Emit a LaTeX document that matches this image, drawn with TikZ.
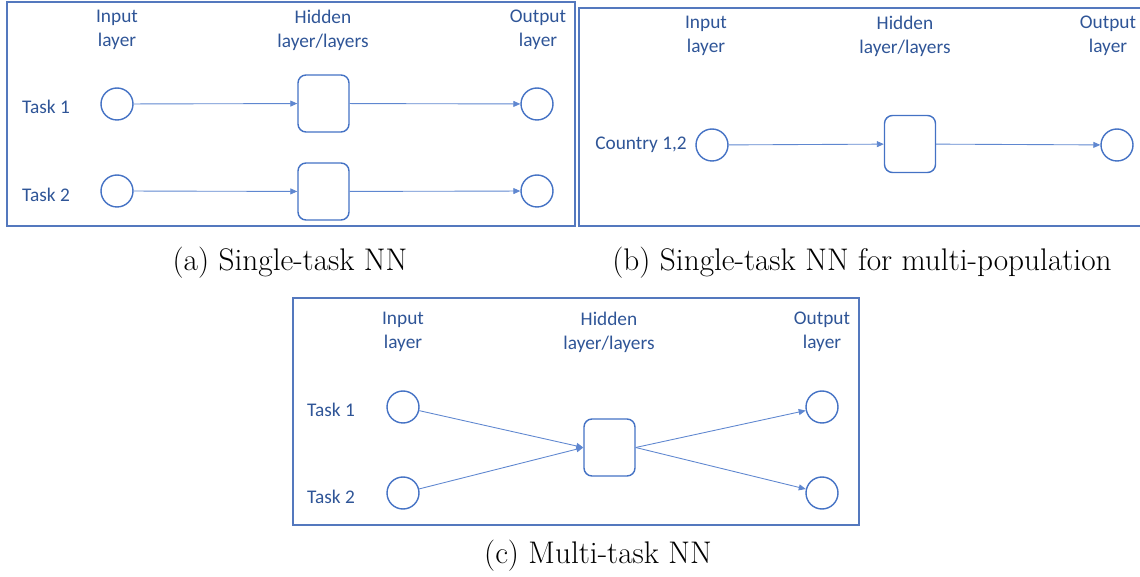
\documentclass[tikz,border=0pt]{standalone}
\usepackage{fontspec}
\newfontfamily\calfont{Carlito}
\usepackage{xcolor}
\usetikzlibrary{arrows.meta,positioning}
\definecolor{frame-blue}{RGB}{84,120,190}
\definecolor{node-blue}{RGB}{68,114,196}
\definecolor{text-blue}{RGB}{47,85,151}
\definecolor{arrow-blue}{RGB}{95,135,208}
\tikzstyle{panel}=[draw=frame-blue, line width=0.8pt]
\tikzstyle{neuron}=[circle, draw=node-blue, line width=0.8pt, minimum size=0.64cm, inner sep=0pt]
\tikzstyle{hbox}=[rectangle, rounded corners=0.16cm, draw=node-blue, line width=0.8pt, minimum width=1.02cm, minimum height=1.14cm, inner sep=0pt]
\tikzstyle{head}=[font=\calfont\fontsize{11}{13.7}\selectfont, text=text-blue, align=center]
\tikzstyle{task}=[font=\calfont\fontsize{11}{13.7}\selectfont, text=text-blue]
\tikzstyle{conn}=[draw=arrow-blue, line width=0.5pt, -{Triangle[length=0.14cm,width=0.12cm]}]
\tikzstyle{subcap}=[font=\fontsize{17.8}{21}\selectfont]

\begin{document}
\begin{tikzpicture}[x=0.02cm,y=-0.02cm]
	\useasboundingbox (0,0) rectangle (1140,577);
	% (a) single-task
	\draw[panel] (7,2) rectangle (575,226);
	\node[head] (aIn) at (117,30) {Input\\layer};
	\node[head] (aHid) at (323,30) {Hidden\\layer/layers};
	\node[head] (aOut) at (538,30) {Output\\layer};
	\node[task] (aT1) at (46,107) {Task 1};
	\node[task] (aT2) at (46,195) {Task 2};
	\node[neuron] (ai1) at (117,104) {};
	\node[neuron] (ai2) at (117,191) {};
	\node[hbox] (ah1) at (323.5,103.5) {};
	\node[hbox] (ah2) at (323.5,191.5) {};
	\node[neuron] (ao1) at (537,104) {};
	\node[neuron] (ao2) at (537,191) {};
	\draw[conn] (ai1) -- (ah1);
	\draw[conn] (ah1) -- (ao1);
	\draw[conn] (ai2) -- (ah2);
	\draw[conn] (ah2) -- (ao2);
	\node[subcap] (capA) at (290,263) {(a) Single-task NN};
	% (b) one net for both countries
	\draw[panel] (579,8) rectangle (1141,226);
	\node[head] (bIn) at (706,36) {Input\\layer};
	\node[head] (bHid) at (905,36) {Hidden\\layer/layers};
	\node[head] (bOut) at (1108,36) {Output\\layer};
	\node[task] (bC) at (641,145) {Country 1,2};
	\node[neuron] (bi) at (712,145) {};
	\node[hbox] (bh) at (910,144) {};
	\node[neuron] (bo) at (1117,145) {};
	\draw[conn] (bi) -- (bh);
	\draw[conn] (bh) -- (bo);
	\node[subcap] (capB) at (862,263) {(b) Single-task NN for multi-population};
	% (c) multi-task
	\draw[panel] (293,298) rectangle (859,525);
	\node[head] (cIn) at (403,332) {Input\\layer};
	\node[head] (cHid) at (609,332) {Hidden\\layer/layers};
	\node[head] (cOut) at (822,332) {Output\\layer};
	\node[task] (cT1) at (331,410) {Task 1};
	\node[task] (cT2) at (331,497) {Task 2};
	\node[neuron] (ci1) at (403,407) {};
	\node[neuron] (ci2) at (403,493) {};
	\node[hbox] (ch) at (609.5,447.5) {};
	\node[neuron] (co1) at (822,407) {};
	\node[neuron] (co2) at (822,493) {};
	\draw[conn] (ci1) -- (ch.west);
	\draw[conn] (ci2) -- (ch.west);
	\draw[conn] (ch.east) -- (co1);
	\draw[conn] (ch.east) -- (co2);
	\node[subcap] (capC) at (598,556) {(c) Multi-task NN};
\end{tikzpicture}
\end{document}
